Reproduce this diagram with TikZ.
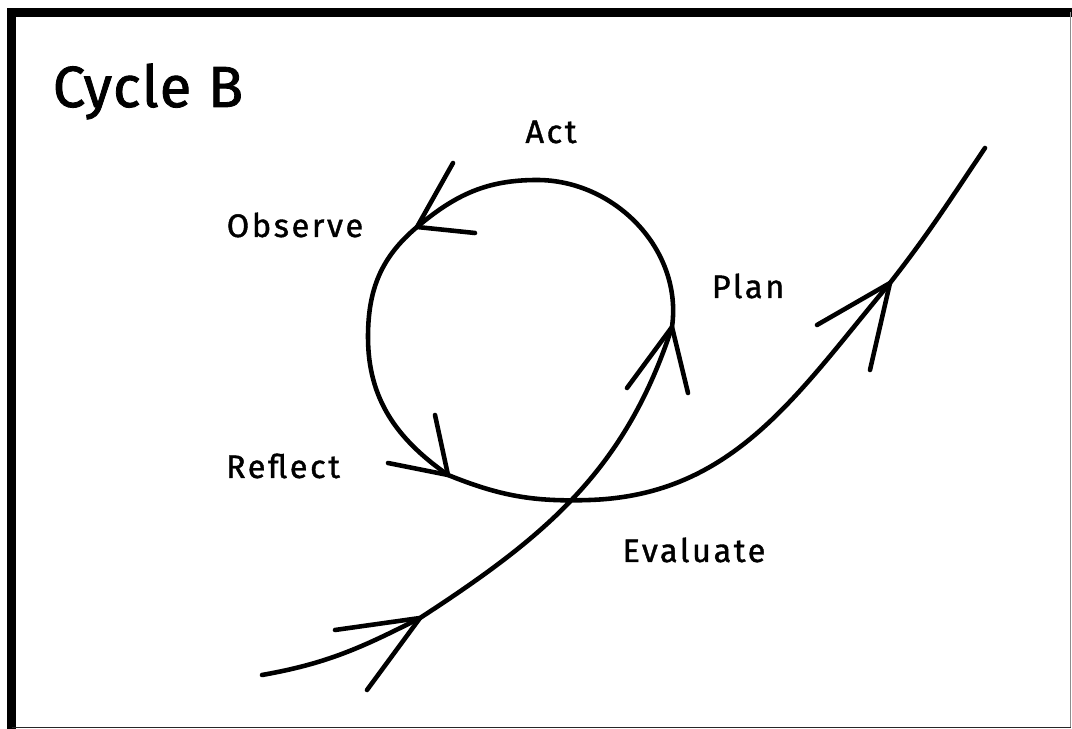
\documentclass[tikz,border=0pt]{standalone}
\usepackage{fontspec}
\setmainfont{Fira Sans}
\newfontfamily\labelfont{Fira Sans}[FakeBold=1.2, LetterSpace=8]
\newfontfamily\headingfont{Fira Sans}[FakeBold=1.4, LetterSpace=2]
\begin{document}
\begin{tikzpicture}[
    stroke/.style={line width=2.6pt, line cap=round, line join=round},
    label/.style={font=\labelfont\fontsize{18.5}{21}\selectfont, anchor=base},
    heading/.style={font=\headingfont\fontsize{33}{38}\selectfont, anchor=base}
]
    \useasboundingbox (0,0) rectangle (21.44,14.58);

    % frame
    \draw[line width=4.8pt, line join=miter] (0.234,0) -- (0.234,14.33) -- (21.44,14.33);
    \draw[line width=0.6pt, black!45] (21.414,14.33) -- (21.414,0.026);
    \draw[line width=0.8pt, black!85] (0.234,0.026) -- (21.414,0.026);

    % points of the spiral
    \coordinate (entryStart) at (5.24,1.08);
    \coordinate (entryTip) at (8.40,2.22);
    \coordinate (planTip) at (13.44,8.04);
    \coordinate (actTop) at (10.74,10.98);
    \coordinate (obsTip) at (8.34,10.04);
    \coordinate (leftSide) at (7.36,7.84);
    \coordinate (refTip) at (8.96,5.08);
    \coordinate (bottom) at (11.80,4.58);
    \coordinate (exitTip) at (17.80,8.92);
    \coordinate (exitEnd) at (19.70,11.62);

    % barb ends
    \coordinate (entryA) at (6.70,1.98);
    \coordinate (entryB) at (7.34,0.78);
    \coordinate (planA) at (12.54,6.82);
    \coordinate (planB) at (13.76,6.72);
    \coordinate (obsA) at (9.06,11.32);
    \coordinate (obsB) at (9.50,9.92);
    \coordinate (refA) at (7.76,5.32);
    \coordinate (refB) at (8.70,6.28);
    \coordinate (exitA) at (16.34,8.08);
    \coordinate (exitB) at (17.40,7.18);

    \draw[stroke] (entryStart) to[out=10, in=207] (entryTip)
        to[out=33, in=252] (planTip)
        to[out=82, in=0] (actTop)
        to[out=180, in=40] (obsTip)
        to[out=220, in=90] (leftSide)
        to[out=270, in=145] (refTip)
        to[out=-22, in=182] (bottom)
        to[out=2, in=230] (exitTip)
        to[out=52, in=236] (exitEnd);

    \draw[stroke] (entryA) -- (entryTip) -- (entryB);
    \draw[stroke] (planA) -- (planTip) -- (planB);
    \draw[stroke] (obsA) -- (obsTip) -- (obsB);
    \draw[stroke] (refA) -- (refTip) -- (refB);
    \draw[stroke] (exitA) -- (exitTip) -- (exitB);

    \node[heading] (title) at (2.96,12.44) {Cycle B};
    \node[label] (act) at (11.02,11.72) {Act};
    \node[label] (observe) at (5.90,9.84) {Observe};
    \node[label] (plan) at (14.96,8.62) {Plan};
    \node[label] (reflect) at (5.66,5.02) {Reflect};
    \node[label] (evaluate) at (13.88,3.34) {Evaluate};
\end{tikzpicture}
\end{document}
